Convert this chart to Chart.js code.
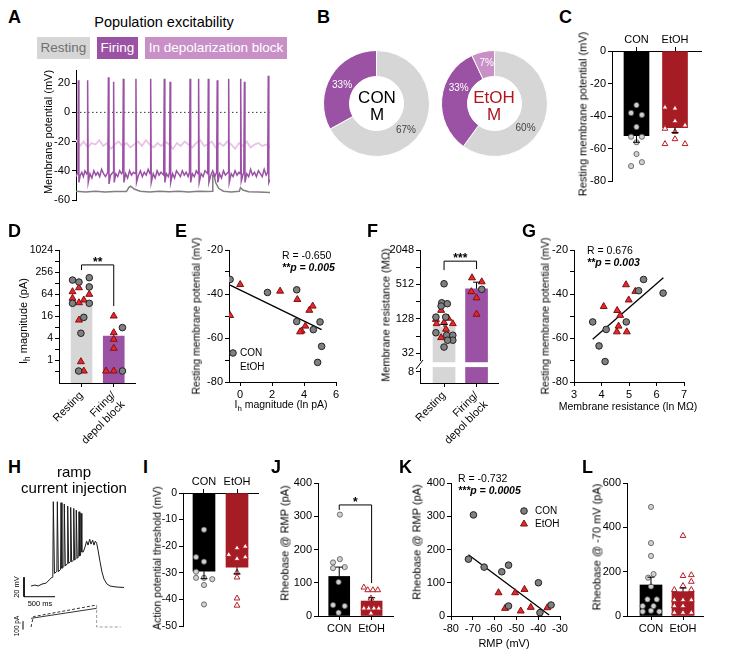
<!DOCTYPE html>
<html>
<head>
<meta charset="utf-8">
<title>Population excitability</title>
<script src="https://cdn.jsdelivr.net/npm/chart.js@4.4.1/dist/chart.umd.min.js"></script>
<style>
  body { margin: 0; background: #fff; }
  #fig { position: relative; width: 750px; height: 659px; overflow: hidden; font-family: 'Liberation Sans', Arial, Helvetica, sans-serif; color: #000; }
  #fig canvas { position: absolute; }
  .t { position: absolute; white-space: nowrap; line-height: 1; }
  .key { position: absolute; top: 37px; height: 22px; line-height: 22px; text-align: center; font-size: 13.5px; }
</style>
</head>
<body>
<div id="fig"></div>
<script>
const FONT = "'Liberation Sans', Arial, Helvetica, sans-serif";

// ---- A: example recordings (time s, mV) ----
const firingTrace = [[0,-44],[0.06,-42],[0.10,-41],[0.12,22],[0.15,-48],[0.22,-43],[0.30,-41],[0.38,-44],[0.46,-40],[0.55,-42],
  [0.58,-41],[0.60,22],[0.63,-48],[0.72,-42],[0.82,-45],[0.92,-40],[1.02,-43],[1.12,-41],[1.22,-44],[1.32,-39],[1.42,-42],
  [1.52,-44],[1.64,-41],[1.67,24],[1.70,-49],[1.78,-43],[1.91,-41],[1.94,21],[1.97,-48],[2.05,-42],[2.15,-44],[2.25,-40],
  [2.35,-42],[2.41,-41],[2.44,23],[2.47,-48],[2.56,-42],[2.66,-45],[2.76,-40],[2.86,-43],[2.96,-41],[3.06,-42],[3.09,23],
  [3.12,-48],[3.22,-43],[3.32,-40],[3.42,-44],[3.52,-41],[3.62,-43],[3.72,-39],[3.82,-42],[3.85,23],[3.88,-48],[3.98,-42],
  [4.08,-45],[4.18,-40],[4.28,-43],[4.38,-41],[4.52,-43],[4.55,23],[4.58,-48],[4.66,-42],[4.76,-44],[4.82,-41],[4.85,21],
  [4.88,-48],[4.98,-42],[5.08,-45],[5.18,-40],[5.28,-42],[5.38,-44],[5.48,-40],[5.58,-43],[5.68,-41],[5.78,-44],[5.85,-41],
  [5.88,23],[5.91,-48],[6.00,-42],[6.10,-44],[6.20,-40],[6.29,-42],[6.32,23],[6.35,-48],[6.45,-42],[6.55,-44],[6.65,-40],
  [6.79,-42],[6.82,23],[6.85,-48],[6.95,-43],[7.05,-40],[7.15,-44],[7.25,-41],[7.28,22],[7.31,-48],[7.40,-42],[7.50,-45],
  [7.60,-40],[7.70,-43],[7.84,-41],[7.87,23],[7.90,-48],[8.00,-42],[8.10,-44],[8.20,-40],[8.30,-43],[8.40,-41],[8.46,-42],
  [8.49,23],[8.52,-47],[8.62,-42],[8.65,-41],[8.68,21],[8.71,-48],[8.80,-42],[8.90,-44],[9.00,-39],[9.10,-43],[9.20,-41],
  [9.30,-44],[9.40,-40],[9.50,-42],[9.60,-44],[9.70,-39],[9.80,-43],[9.88,-41],[9.91,25],[9.94,-48],[10,-46]];
const depolTime = [0,0.2,0.4,0.6,0.8,1,1.2,1.4,1.6,1.8,2,2.2,2.4,2.6,2.8,3,3.2,3.4,3.6,3.8,4,4.2,4.4,4.6,4.8,5,
  5.2,5.4,5.6,5.8,6,6.2,6.4,6.6,6.8,7,7.2,7.4,7.6,7.8,8,8.2,8.4,8.6,8.8,9,9.2,9.4,9.6,9.8,10];
const depolMv = [-19,-23,-20,-24,-21,-22,-19,-23,-21,-25,-22,-20,-23,-21,-24,-22,-20,-23,-19,-22,
  -24,-21,-23,-20,-22,-25,-21,-23,-20,-22,-24,-21,-19,-23,-22,-20,-24,-21,-23,-20,
  -22,-25,-21,-23,-20,-24,-22,-21,-23,-22,-24];
const restingTrace = [[0,-54],[0.5,-54.6],[1,-54],[1.5,-54.5],[2,-54.1],[2.6,-54.2],[2.72,-51.5],[2.82,-50.5],[3.0,-52.5],
  [3.3,-54],[3.8,-54.5],[4.3,-54],[4.8,-54.4],[5.3,-54],[5.8,-54.5],[6.3,-54],[6.8,-54.2],[7.02,-54],[7.05,-43],[7.1,-42],
  [7.2,-48],[7.35,-52],[7.6,-54],[8.0,-54.5],[8.42,-54],[8.48,-51.5],[8.6,-53.2],[8.9,-54.3],[9.4,-54.6],[10,-54.8]];
const zeroLine = [[0, 0], [10, 0]];

// ---- B: population (%) ----
const conPop = [67, 33];
const etohPop = [60, 33, 7];

// ---- C: resting membrane potential (mV) ----
const groups = ['CON', 'EtOH'];
const rmpMean = [-52, -47];
const rmpSem = [4, 3];
const rmpCon = [-33.2, -38, -39.2, -46.6, -52.6, -52.6, -56, -63.2, -70.6, -68.2];
const rmpEtoh = [-34.6, -35.2, -43, -45.6, -47.6, -49.6, -54, -57, -57];

// ---- D: Ih magnitude (pA) ----
const states = ['Resting', ['Firing/', 'depol block']];
const ihMean = [39, 4.5];
const ihRestCon = [154, 136, 179, 100, 35.6, 35.6, 14.7, 5.4, 0.5];
const ihRestEtoh = [74, 95, 62.8, 48.8, 43.8, 37, 12.4, 0.9, 0.5];
const ihFireCon = [7.7, 0.5];
const ihFireEtoh = [16, 5.6, 3.7, 2.1, 0.5, 0.5];

// ---- E: RMP vs ln Ih ----
const lnIhCon = [-0.63, 1.71, 3.54, 3.54, 4.58, 5.0, 5.1, 4.85];
const rmpIhCon = [-33.4, -39.3, -38.1, -52.5, -56.2, -52.7, -63.8, -71.1];
const lnIhEtoh = [0, 2.5, 3.58, 4.33, 4.54, 4.08, 3.85, 3.75, -0.63];
const rmpIhEtoh = [-35.7, -38.7, -42.5, -47.4, -45.5, -54.6, -56.8, -57.2, -49.8];
const ihFitX = [-0.63, 5.1];
const ihFitY = [-36, -56.2];

// ---- F: membrane resistance (MOhm) ----
const rinMean = [92, 430];
const rinSem = [10, 130];
const rinRestCon = [525, 244, 235, 214, 137, 137, 73, 66, 66, 54, 54, 41];
const rinRestEtoh = [180, 131, 125, 105, 110, 105, 84, 60];
const rinFireCon = [420];
const rinFireEtoh = [668, 568, 382, 298, 154];

// ---- G: RMP vs ln Rm ----
const lnRinCon = [3.68, 4.17, 3.91, 4.13, 4.9, 5.35, 6.24, 5.53];
const rmpRinCon = [-52.7, -56.1, -63.6, -70.7, -52.7, -38.5, -39.6, -33.4];
const lnRinEtoh = [4.89, 5.23, 4.99, 4.08, 4.57, 4.68, 4.62, 4.56, 4.92];
const rmpRinEtoh = [-35.8, -38.8, -42.7, -45.7, -47.5, -49.7, -54.6, -57.2, -57.2];
const rinFitX = [3.68, 6.25];
const rinFitY = [-60.6, -32.6];

// ---- H: ramp example (ms, mV / pA) ----
const rampVm = [[0,-65],[64,-64],[113,-65],[177,-63],[242,-62],[306,-58],[338,-56],[351,-55],
  [359,21.5],[378,-52],[416,-50],[424,21.5],[440,-50.3],[476,-48],[483,20.5],[498,-46.8],[530,-45],
  [536,19.2],[552,-44.5],[585,-42],[591,17.1],[606,-41.7],[634,-40],[639,15.7],[654,-40.1],[683,-38.5],
  [688,14.7],[702,-38.3],[724,-37],[729,12.9],[744,-36.6],[768,-35],[773,11.2],[786,-34.2],[800,-32],
  [805,9.5],[818,-30],[842,-30],[869,-25],[896,-19],[918,-23],[945,-17],[966,-22],[993,-18],[1014,-23],
  [1035,-19],[1057,-21],[1079,-28],[1111,-40],[1143,-50.6],[1175,-57.8],[1224,-63],[1272,-65],[1369,-66],[1497,-66.5]];
const rampCmd = [[0, 104], [1057, 224]];
const rampCmdMax = [[0, 0], [37, 124], [1057, 264]];
const rampCmdOff = [[1057, 264], [1057, 0], [1444, 0]];
const barVm = [[-113, -56], [-113, -76], [387, -76]];
const barPa = [[-129, -30], [-129, 70]];

// ---- I: AP threshold (mV) ----
const thrMean = [-29.4, -27.9];
const thrSem = [2.8, 2.5];
const thrCon = [-13.8, -24.1, -25.8, -29.6, -31.9, -31.9, -32.4, -34.6, -41.9];
const thrEtoh = [-23.2, -20.7, -20.1, -24.7, -24.1, -29.9, -31.7, -39.6, -42.3];

// ---- J: rheobase @ RMP (pA) ----
const rhMean = [119, 45];
const rhSem = [28, 10];
const rhCon = [305, 171, 161, 147, 144, 102, 33, 30, 10];
const rhEtoh = [86, 78, 78, 78, 53, 23, 23, 23, 23, 8];

// ---- K: rheobase vs RMP ----
const kRmpCon = [-69.7, -72, -64.8, -56.7, -53.6, -39.9, -53.6, -39.2, -34.1];
const kRhCon = [304, 171, 147, 133, 153, 100, 30, 10, 33];
const kRmpEtoh = [-58.2, -50.6, -46.3, -55.2, -48, -43.4, -35.8];
const kRhEtoh = [70, 70, 80, 23, 15, 26, 25];
const kFitX = [-72, -35];
const kFitY = [184, 3];

// ---- L: rheobase @ -70 mV (pA) ----
const rh70Mean = [140, 110];
const rh70Sem = [35, 16];
const rh70Con = [492, 329, 271, 189, 173, 133, 75, 75, 45, 45, 20, 24, 20];
const rh70Etoh = [362, 181, 185, 118, 136, 155, 118, 72, 72, 72, 45, 45, 15, 15, 15];

// sideways spread of dots inside each column (category units)
const rmpConX = [0, -0.14, 0.14, 0, -0.14, 0.14, 0, 0, -0.14, 0.14];
const rmpEtohX = [-0.26, 0, 0, 0.26, -0.26, 0, 0, -0.26, 0.26];
const ihRestConX = [-0.28, -0.08, 0.24, 0.24, -0.28, 0.24, 0.07, -0.02, -0.09];
const ihRestEtohX = [-0.28, -0.08, 0.24, -0.28, 0.07, -0.08, -0.08, -0.02, 0.07];
const ihFireConX = [0.27, 0.27];
const ihFireEtohX = [0, 0, 0, 0, -0.24, 0];
const rinRestConX = [0, -0.07, 0.1, -0.09, -0.25, 0.05, -0.25, 0.08, 0.27, 0.27, 0.11, 0];
const rinRestEtohX = [-0.09, 0.13, -0.25, -0.23, 0, 0.27, 0.06, -0.09];
const rinFireConX = [0.16];
const rinFireEtohX = [-0.14, 0.16, -0.16, 0, 0];
const thrConX = [0, -0.24, 0, -0.24, -0.24, 0, 0.25, 0, 0];
const thrEtohX = [-0.25, 0, 0.25, 0, 0.25, 0, 0, 0, 0];
const rhConX = [0.02, 0.02, -0.19, 0.17, -0.19, -0.02, -0.19, 0.17, -0.02];
const rhEtohX = [-0.24, -0.12, 0.04, 0.19, -0.02, -0.24, -0.09, 0.07, 0.22, -0.02];
const rh70ConX = [0, 0, 0, 0.08, -0.09, 0, -0.11, 0.18, -0.26, 0.08, -0.26, 0, 0.26];
const rh70EtohX = [0, 0, 0.26, -0.27, 0, 0.26, 0.26, -0.27, 0, 0.26, -0.27, 0, -0.27, 0, 0.26];

// ---------------- setup ----------------
Chart.defaults.font.family = FONT;
Chart.defaults.font.size = 11;
Chart.defaults.color = '#000';
Chart.defaults.animation = false;
Chart.defaults.events = [];
Chart.defaults.plugins.legend.display = false;
Chart.defaults.plugins.tooltip.enabled = false;

const PURPLE = '#9b52a5', PALE = '#c990c8', GREY = '#d6d6d6', DARKRED = '#a51c24';
const conLight = { pointStyle: 'circle', pointRadius: 2.6, pointBackgroundColor: '#d0d0d0', pointBorderColor: '#555', pointBorderWidth: 0.8 };
const etohOpen = { pointStyle: 'triangle', pointRadius: 3.3, pointBackgroundColor: '#fff', pointBorderColor: '#b41f27', pointBorderWidth: 1 };
const conDark = { pointStyle: 'circle', pointRadius: 3.3, pointBackgroundColor: '#808080', pointBorderColor: '#222', pointBorderWidth: 1 };
const etohRed = { pointStyle: 'triangle', pointRadius: 4, pointBackgroundColor: '#e8262b', pointBorderColor: '#7d1111', pointBorderWidth: 1 };

const extras = {
  id: 'extras',
  afterDatasetsDraw(chart, args, o) {
    const ctx = chart.ctx, xs = chart.scales.x, ys = chart.scales.y;
    ctx.save();
    ctx.strokeStyle = '#000';
    ctx.lineWidth = 1;
    if (o.err) {
      o.err.mean.forEach((m, i) => {
        const x = xs.getPixelForValue(i);
        const end = m < 0 ? m - o.err.sem[i] : m + o.err.sem[i];
        const y0 = ys.getPixelForValue(m), y1 = ys.getPixelForValue(end);
        ctx.beginPath();
        ctx.moveTo(x, y0); ctx.lineTo(x, y1);
        ctx.moveTo(x - 3.5, y1); ctx.lineTo(x + 3.5, y1);
        ctx.stroke();
      });
    }
    if (o.bracket) {
      const b = o.bracket;
      const x1 = xs.getPixelForValue(0), x2 = xs.getPixelForValue(1), yt = ys.getPixelForValue(b.top);
      ctx.beginPath();
      ctx.moveTo(x1, ys.getPixelForValue(b.left));
      ctx.lineTo(x1, yt); ctx.lineTo(x2, yt);
      ctx.lineTo(x2, ys.getPixelForValue(b.right));
      ctx.stroke();
      ctx.fillStyle = '#000';
      ctx.font = 'bold 12px ' + FONT;
      ctx.textAlign = 'center';
      ctx.textBaseline = 'alphabetic';
      ctx.fillText(b.stars, (x1 + x2) / 2, yt + 1);
    }
    if (o.brk) {
      const x0 = chart.chartArea.left, ya = ys.bottom - 4, yb = chart.scales.y2.top + 3;
      ctx.fillStyle = '#fff';
      ctx.fillRect(x0 - 6, ya, 9, yb - ya);
      ctx.beginPath(); ctx.moveTo(x0 - 4, yb + 1); ctx.lineTo(x0 + 3, ya - 1); ctx.stroke();
    }
    (o.keys || []).forEach(k => {
      if (k.style) {
        ctx.fillStyle = k.fill; ctx.strokeStyle = k.stroke; ctx.lineWidth = 1;
        Chart.helpers.drawPoint(ctx, { pointStyle: k.style, radius: k.r, rotation: 0, borderWidth: 1 }, k.x, k.y);
      }
      ctx.fillStyle = '#000';
      ctx.font = '10px ' + FONT;
      ctx.textAlign = 'left';
      ctx.textBaseline = 'middle';
      ctx.fillText(k.text, k.tx, k.y);
    });
    ctx.restore();
  }
};

const pct = {
  id: 'pct',
  afterDatasetsDraw(chart, args, o) {
    if (!o.colors) return;
    const ctx = chart.ctx;
    ctx.save();
    ctx.font = '10px ' + FONT;
    ctx.textAlign = 'center';
    ctx.textBaseline = 'middle';
    chart.getDatasetMeta(0).data.forEach((arc, i) => {
      const p = arc.tooltipPosition();
      ctx.fillStyle = o.colors[i];
      ctx.fillText(chart.data.datasets[0].data[i] + '%', p.x + o.dx[i], p.y + o.dy[i]);
    });
    ctx.restore();
  }
};
Chart.register(extras, pct);

const fig = document.getElementById('fig');

function label(text, x, y, o = {}) {
  const d = document.createElement('div');
  d.className = 't';
  d.innerHTML = text;
  d.style.left = x + 'px';
  d.style.top = y + 'px';
  d.style.fontSize = (o.size || 11) + 'px';
  if (o.bold) d.style.fontWeight = 'bold';
  if (o.italic) d.style.fontStyle = 'italic';
  if (o.color) d.style.color = o.color;
  let tf = o.align === 'left' ? 'translate(0,-50%)' : 'translate(-50%,-50%)';
  if (o.rotate) tf += ' rotate(-90deg)';
  d.style.transform = tf;
  fig.appendChild(d);
}

function makeChart(left, top, w, h, pad, config) {
  const c = document.createElement('canvas');
  c.width = w; c.height = h;
  c.style.left = left + 'px';
  c.style.top = top + 'px';
  fig.appendChild(c);
  config.options = config.options || {};
  config.options.responsive = false;
  config.options.layout = { padding: pad };
  return new Chart(c, config);
}

function axis(o) {
  const a = {
    type: o.type || 'linear',
    position: o.position || (o.horizontal ? 'bottom' : 'left'),
    min: o.min, max: o.max,
    offset: false,
    border: { display: true, color: '#000', width: 1 },
    grid: { display: true, drawOnChartArea: false, drawTicks: true, tickLength: 4, color: '#000', offset: false },
    ticks: { color: '#000', padding: o.padding ?? 2, autoSkip: false, maxRotation: o.rot || 0, minRotation: o.rot || 0, font: { size: o.font || 11 } },
    afterFit(s) { if (o.size != null) { if (s.isHorizontal()) s.height = o.size; else s.width = o.size; } }
  };
  if (o.labels) a.ticks.callback = (v) => o.labels(v);
  if (o.ticks) a.afterBuildTicks = (s) => { s.ticks = o.ticks.map(v => ({ value: v })); };
  if (o.extra) Object.assign(a, o.extra);
  return a;
}

const spread = (vals, offs, center) => vals.map((v, i) => ({ x: center + offs[i], y: v }));
const xy = (xs, ys) => xs.map((x, i) => ({ x, y: ys[i] }));
const every = (n) => (v) => (v % n === 0 ? String(v) : '');

function barPanel(p) {
  const datasets = p.dots.map(d => Object.assign({ type: 'scatter', data: d.data, yAxisID: 'y' }, d.style));
  datasets.push({ type: 'bar', data: p.mean.map((m, i) => ({ x: i, y: m })), backgroundColor: p.colors,
    barThickness: p.barW, grouped: false, base: p.base, yAxisID: 'y' });
  if (p.more) datasets.push(...p.more);
  const scales = {
    x: axis({ horizontal: true, position: p.xPos || 'bottom', min: p.xMin, max: p.xMax, ticks: [0, 1],
      labels: v => p.names[v], size: p.xSize, rot: p.rot, padding: p.xPos === 'top' ? 0 : 2, font: p.xFont }),
    y: axis({ type: p.yType, min: p.yMin, max: p.yMax, ticks: p.yTicks, labels: p.yLabels, size: p.ySize, extra: p.yExtra, font: p.yFont })
  };
  if (p.y2) scales.y2 = p.y2;
  return makeChart(p.left, p.top, p.w, p.h, p.pad, {
    type: 'bar',
    data: { datasets },
    options: { scales, plugins: { extras: { err: p.sem ? { mean: p.mean, sem: p.sem } : null, bracket: p.bracket || null, brk: !!p.brk } } }
  });
}

function scatterPanel(p) {
  const datasets = [
    Object.assign({ type: 'scatter', data: xy(p.conX, p.conY) }, conDark),
    Object.assign({ type: 'scatter', data: xy(p.etohX, p.etohY) }, etohRed),
    { type: 'line', data: xy(p.fitX, p.fitY), borderColor: '#000', borderWidth: 1.3, pointRadius: 0 }
  ];
  return makeChart(p.left, p.top, p.w, p.h, p.pad, {
    type: 'scatter',
    data: { datasets },
    options: {
      scales: {
        x: axis({ horizontal: true, min: p.xMin, max: p.xMax, ticks: p.xTicks, labels: p.xLabels, size: p.xSize }),
        y: axis({ min: p.yMin, max: p.yMax, ticks: p.yTicks, labels: p.yLabels, size: p.ySize })
      },
      plugins: { extras: { keys: p.keys || [] } }
    }
  });
}

// ---------------- A ----------------
makeChart(40, 60, 240, 150, { top: 10, right: 10, bottom: 10, left: 0 }, {
  type: 'line',
  data: { datasets: [
    { data: firingTrace, borderColor: PURPLE, borderWidth: 1.5 },
    { data: restingTrace, borderColor: '#7f7f7f', borderWidth: 1.5 },
    { data: depolTime.map((t, i) => [t, depolMv[i]]), borderColor: '#e7c4e5', borderWidth: 1.8 },
    { data: zeroLine, borderColor: '#333', borderWidth: 1, borderDash: [1.5, 2.5] }
  ]},
  options: {
    elements: { point: { radius: 0 }, line: { tension: 0 } },
    scales: {
      x: { type: 'linear', display: false, min: 0, max: 10 },
      y: axis({ min: -60, max: 29, ticks: [-60, -40, -20, 0, 20], labels: String, size: 36 })
    }
  }
});

// ---------------- B ----------------
makeChart(323, 50, 107, 107, 0, {
  type: 'doughnut',
  data: { labels: ['Resting', 'Firing'], datasets: [{ data: conPop, backgroundColor: [GREY, PURPLE], borderColor: '#fff', borderWidth: 1 }] },
  options: { cutout: '51%', plugins: { pct: { colors: ['#444', '#fff'], dx: [-5, 0], dy: [6, 2] } } }
});
makeChart(441, 50, 107, 107, 0, {
  type: 'doughnut',
  data: { labels: ['Resting', 'Firing', 'In depolarization block'], datasets: [{ data: etohPop, backgroundColor: [GREY, PURPLE, PALE], borderColor: '#fff', borderWidth: 1 }] },
  options: { cutout: '51%', plugins: { pct: { colors: ['#444', '#fff', '#fff'], dx: [-7, 4, 1], dy: [12, -11, -1] } } }
});

// ---------------- C ----------------
barPanel({
  left: 570, top: 30, w: 140, h: 160, pad: { top: 0, right: 9, bottom: 6, left: 0 },
  names: groups, xPos: 'top', xSize: 21, ySize: 42, xMin: -0.636, xMax: 1.675,
  yMin: -80, yMax: 0, yTicks: [-80, -60, -40, -20, 0], yLabels: String,
  mean: rmpMean, sem: rmpSem, colors: ['#000', DARKRED], barW: 25,
  dots: [{ data: spread(rmpCon, rmpConX, 0), style: conLight }, { data: spread(rmpEtoh, rmpEtohX, 1), style: etohOpen }]
});

// ---------------- D ----------------
barPanel({
  left: 5, top: 240, w: 140, h: 205, pad: { top: 10, right: 10, bottom: 0, left: 0 },
  names: states, rot: 45, xSize: 62, ySize: 54, xMin: -0.70, xMax: 1.66,
  yType: 'logarithmic', yMin: 0.235, yMax: 1024, yTicks: [0.5, 1, 2, 4, 8, 16, 32, 64, 128, 256, 512, 1024],
  yLabels: v => ([1, 4, 16, 64, 256, 1024].includes(v) ? String(v) : ''), yFont: 10.5,
  mean: ihMean, colors: [GREY, PURPLE], barW: 21,
  bracket: { top: 400, left: 290, right: 30, stars: '**' },
  dots: [
    { data: spread(ihRestCon, ihRestConX, 0), style: conDark },
    { data: spread(ihFireCon, ihFireConX, 1), style: conDark },
    { data: spread(ihRestEtoh, ihRestEtohX, 0), style: etohRed },
    { data: spread(ihFireEtoh, ihFireEtohX, 1), style: etohRed }
  ]
});

// ---------------- E ----------------
scatterPanel({
  left: 186, top: 240, w: 160, h: 180, pad: { top: 10, right: 10, bottom: 0, left: 0 },
  xSize: 38, ySize: 43, xMin: -0.7, xMax: 6, xTicks: [0, 2, 4, 6], xLabels: String,
  yMin: -80, yMax: -20, yTicks: [-80, -70, -60, -50, -40, -30, -20], yLabels: every(20),
  conX: lnIhCon, conY: rmpIhCon, etohX: lnIhEtoh, etohY: rmpIhEtoh, fitX: ihFitX, fitY: ihFitY,
  keys: [
    { style: 'circle', r: 3.3, fill: '#808080', stroke: '#222', x: 47, y: 113, tx: 54, text: 'CON' },
    { tx: 54, y: 127, text: 'EtOH' }
  ]
});

// ---------------- F ----------------
const rinBreakFill = [11, 11];
barPanel({
  left: 345, top: 240, w: 160, h: 205, pad: { top: 10, right: 7, bottom: 0, left: 0 },
  names: states, rot: 45, xSize: 62, ySize: 75, xMin: -0.74, xMax: 1.66,
  yType: 'logarithmic', yMin: 19.9, yMax: 2048, yTicks: [32, 64, 128, 256, 512, 1024, 2048],
  yLabels: v => ([32, 128, 512, 2048].includes(v) ? String(v) : ''),
  yExtra: { stack: 'rin', stackWeight: 115, weight: 2 },
  y2: axis({ min: 0, max: 12.7, ticks: [8], labels: () => '8', size: 75, extra: { stack: 'rin', stackWeight: 18, weight: 1 } }),
  mean: rinMean, sem: rinSem, colors: [GREY, PURPLE], barW: 22, base: 22.5, brk: true,
  bracket: { top: 1306, left: 911, right: 950, stars: '***' },
  more: [{ type: 'bar', data: rinBreakFill.map((v, i) => ({ x: i, y: v })), yAxisID: 'y2', backgroundColor: [GREY, PURPLE], barThickness: 22, grouped: false }],
  dots: [
    { data: spread(rinRestCon, rinRestConX, 0), style: conDark },
    { data: spread(rinFireCon, rinFireConX, 1), style: conDark },
    { data: spread(rinRestEtoh, rinRestEtohX, 0), style: etohRed },
    { data: spread(rinFireEtoh, rinFireEtohX, 1), style: etohRed }
  ]
});

// ---------------- G ----------------
scatterPanel({
  left: 535, top: 240, w: 160, h: 180, pad: { top: 10, right: 11, bottom: 0, left: 0 },
  xSize: 38, ySize: 39, xMin: 3, xMax: 7, xTicks: [3, 4, 5, 6, 7], xLabels: String,
  yMin: -80, yMax: -20, yTicks: [-80, -70, -60, -50, -40, -30, -20], yLabels: every(20),
  conX: lnRinCon, conY: rmpRinCon, etohX: lnRinEtoh, etohY: rmpRinEtoh, fitX: rinFitX, fitY: rinFitY
});

// ---------------- H ----------------
makeChart(15, 495, 115, 145, 0, {
  type: 'line',
  data: { datasets: [
    { data: rampVm, yAxisID: 'yV', borderColor: '#1a1a1a', borderWidth: 1 },
    { data: barVm, yAxisID: 'yV', borderColor: '#000', borderWidth: 1 },
    { data: rampCmd, yAxisID: 'yI', borderColor: '#333', borderWidth: 1 },
    { data: rampCmdMax, yAxisID: 'yI', borderColor: '#333', borderWidth: 1, borderDash: [3, 2] },
    { data: rampCmdOff, yAxisID: 'yI', borderColor: '#9a9a9a', borderWidth: 1, borderDash: [3, 2] },
    { data: barPa, yAxisID: 'yI', borderColor: '#000', borderWidth: 1 }
  ]},
  options: {
    elements: { point: { radius: 0 }, line: { tension: 0 } },
    scales: {
      x: { type: 'linear', display: false, min: -258, max: 1594 },
      yV: { axis: 'y', type: 'linear', display: false, min: -120.4, max: 28.4 },
      yI: { axis: 'y', type: 'linear', display: false, min: -156, max: 1584 }
    }
  }
});

// ---------------- I ----------------
barPanel({
  left: 150, top: 475, w: 115, h: 160, pad: { top: 0, right: 7, bottom: 9, left: 0 },
  names: groups, xPos: 'top', xSize: 18, ySize: 33, xMin: -0.636, xMax: 1.636,
  yMin: -50, yMax: 0, yTicks: [-50, -40, -30, -20, -10, 0], yLabels: String, yFont: 10.5,
  mean: thrMean, sem: thrSem, colors: ['#000', DARKRED], barW: 22,
  dots: [{ data: spread(thrCon, thrConX, 0), style: conLight }, { data: spread(thrEtoh, thrEtohX, 1), style: etohOpen }]
});

// ---------------- J ----------------
barPanel({
  left: 270, top: 473, w: 130, h: 170, pad: { top: 10, right: 7, bottom: 0, left: 0 },
  names: groups, xSize: 27, ySize: 48, xMin: -0.655, xMax: 1.66,
  yMin: 0, yMax: 400, yTicks: [0, 100, 200, 300, 400], yLabels: String,
  mean: rhMean, sem: rhSem, colors: ['#000', DARKRED], barW: 21,
  bracket: { top: 334, left: 319, right: 99, stars: '*' },
  dots: [{ data: spread(rhCon, rhConX, 0), style: conLight }, { data: spread(rhEtoh, rhEtohX, 1), style: etohOpen }]
});

// ---------------- K ----------------
scatterPanel({
  left: 405, top: 473, w: 165, h: 180, pad: { top: 10, right: 10, bottom: 0, left: 0 },
  xSize: 37, ySize: 46, xMin: -80, xMax: -30, xTicks: [-80, -70, -60, -50, -40, -30], xLabels: String,
  yMin: 0, yMax: 400, yTicks: [0, 100, 200, 300, 400], yLabels: String,
  conX: kRmpCon, conY: kRhCon, etohX: kRmpEtoh, etohY: kRhEtoh, fitX: kFitX, fitY: kFitY,
  keys: [
    { style: 'circle', r: 3.3, fill: '#808080', stroke: '#222', x: 119, y: 38, tx: 130, text: 'CON' },
    { style: 'triangle', r: 4, fill: '#e8262b', stroke: '#7d1111', x: 119, y: 51, tx: 130, text: 'EtOH' }
  ]
});

// ---------------- L ----------------
barPanel({
  left: 590, top: 473, w: 125, h: 170, pad: { top: 10, right: 12, bottom: 0, left: 0 },
  names: groups, xSize: 27, ySize: 37, xMin: -0.75, xMax: 1.625,
  yMin: 0, yMax: 600, yTicks: [0, 200, 400, 600], yLabels: String,
  mean: rh70Mean, sem: rh70Sem, colors: ['#000', DARKRED], barW: 22,
  dots: [{ data: spread(rh70Con, rh70ConX, 0), style: conLight }, { data: spread(rh70Etoh, rh70EtohX, 1), style: etohOpen }]
});

// ---------------- text ----------------
[['A', 8, 16.5], ['B', 317, 16.5], ['C', 559, 16.5], ['D', 8, 230.5], ['E', 175, 230.5], ['F', 367, 230.5],
 ['G', 522, 230.5], ['H', 8, 466.5], ['I', 143, 466.5], ['J', 271, 466.5], ['K', 399, 466.5], ['L', 582, 466.5]]
  .forEach(([t, x, y]) => label(t, x, y, { size: 18, bold: true, align: 'left' }));

label('Population excitability', 164, 22, { size: 14.5 });
[['Resting', 37, 53, GREY, '#707070'], ['Firing', 97, 41, PURPLE, '#fff'], ['In depolarization block', 145, 142, PALE, '#fff']]
  .forEach(([t, x, w, bg, c]) => {
    const d = document.createElement('div');
    d.className = 'key';
    d.textContent = t;
    d.style.left = x + 'px'; d.style.width = w + 'px';
    d.style.background = bg; d.style.color = c;
    fig.appendChild(d);
  });
label('Membrane potential (mV)', 48, 132, { rotate: true });

label('CON', 377, 97, { size: 17 });
label('M', 377, 114, { size: 17 });
label('EtOH', 494, 97, { size: 17, color: '#b0161d' });
label('M', 494, 114, { size: 17, color: '#b0161d' });

label('Resting membrane potential (mV)', 583, 114, { rotate: true });
label('I<sub style="font-size:0.75em">h</sub> magnitude (pA)', 25, 321, { rotate: true });
label('Resting membrane potential (mV)', 196, 316, { rotate: true, size: 10.5 });
label('I<sub style="font-size:0.75em">h</sub> magnitude (ln pA)', 281, 406, { size: 10.5 });
label('R = -0.650', 282, 255, { align: 'left', size: 10.5 });
label('**p = 0.005', 282, 267, { align: 'left', size: 10.5, bold: true, italic: true });
label('Membrane resistance (MΩ)', 386, 315, { rotate: true });
label('Resting membrane potential (mV)', 545, 316, { rotate: true, size: 10.5 });
label('Membrane resistance (ln MΩ)', 628, 406, { size: 10.5 });
label('R = 0.676', 587, 250, { align: 'left', size: 10.5 });
label('**p = 0.003', 587, 262, { align: 'left', size: 10.5, bold: true, italic: true });

label('ramp', 74, 471, { size: 15 });
label('current injection', 74, 487, { size: 15 });
label('20 mV', 17, 587, { size: 7.5, rotate: true });
label('500 ms', 40, 604, { size: 7.5 });
label('100 pA', 17, 626, { size: 6.5, rotate: true });

label('Action potential threshold (mV)', 157, 558, { rotate: true, size: 10.5 });
label('Rheobase @ RMP (pA)', 285, 543, { rotate: true });
label('Rheobase @ RMP (pA)', 417, 542, { rotate: true });
label('R = -0.732', 458, 478, { align: 'left', size: 10.5 });
label('***p = 0.0005', 458, 490, { align: 'left', size: 10.5, bold: true, italic: true });
label('RMP (mV)', 504, 643);
label('Rheobase @ -70 mV (pA)', 597, 547, { rotate: true });
</script>
</body>
</html>
